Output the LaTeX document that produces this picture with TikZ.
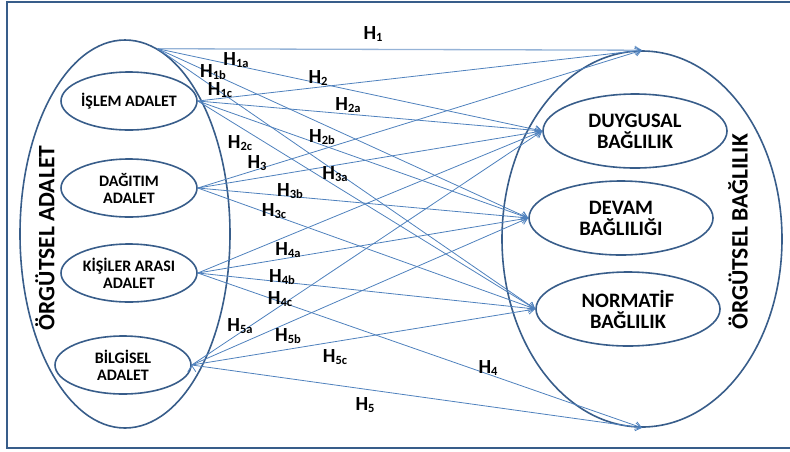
\documentclass[tikz,border=0pt]{standalone}
\usepackage{fontspec}
\setmainfont{Carlito}
\usetikzlibrary{shapes.geometric,arrows.meta}
\definecolor{ovalblue}{HTML}{385D8A}
\definecolor{linkblue}{HTML}{4F81BD}
\definecolor{paleblue}{HTML}{95B3D7}
\newcommand{\hyp}[1]{H\raisebox{-1.5pt}{\fontsize{12.5}{12.5}\selectfont #1}}

\begin{document}
\begin{tikzpicture}[x=1pt,y=-1pt,
  oval/.style={ellipse,draw=ovalblue,line width=1.6pt,inner sep=0pt,align=center,font=\bfseries},
  leftoval/.style={oval,minimum width=136pt,minimum height=58pt,font=\fontsize{16}{17}\selectfont\bfseries},
  rightoval/.style={oval,minimum width=184pt,minimum height=74pt,font=\fontsize{20.5}{21}\selectfont\bfseries},
  title/.style={rotate=90,inner sep=0pt,font=\fontsize{23.5}{24}\selectfont\bfseries},
  hlabel/.style={inner sep=0pt,font=\fontsize{20}{20}\selectfont\bfseries},
  linkline/.style={draw=linkblue,line width=0.8pt,-{Straight Barb[length=6pt,width=8pt]}}]

  \useasboundingbox (0,0) rectangle (790,451);
  \draw[ovalblue,line width=2.2pt] (800,2) -- (7,2) -- (7,448) -- (800,448);

  % outer ovals
  \node[oval,minimum width=210pt,minimum height=388pt] (adalet) at (125,234) {};
  \node[oval,minimum width=280pt,minimum height=376pt] (baglilik) at (642,239) {};
  \node[title] (adaletbaslik) at (45,238) {ÖRGÜTSEL ADALET};
  \node[title] (baglilikbaslik) at (738,232) {ÖRGÜTSEL BAĞLILIK};

  % inner ovals
  \node[leftoval] (islem) at (129,101) {İŞLEM ADALET};
  \node[leftoval] (dagitim) at (129,188) {DAĞITIM\\ADALET};
  \node[leftoval] (kisiler) at (129,273) {KİŞİLER ARASI\\ADALET};
  \node[leftoval] (bilgisel) at (123,365) {BİLGİSEL\\ADALET};
  \node[rightoval] (duygusal) at (635,131) {DUYGUSAL\\BAĞLILIK};
  \node[rightoval] (devam) at (621,218) {DEVAM\\BAĞLILIĞI};
  \node[rightoval] (normatif) at (628,309) {NORMATİF\\BAĞLILIK};

  \coordinate (tepe) at (adalet.80);

  \path[linkline]
   (tepe) edge[draw=paleblue,line width=1.3pt] (baglilik.north)
   (tepe) edge (duygusal.west)
   (tepe) edge (devam.west)
   (tepe) edge (normatif.west)
   (islem.east) edge (baglilik.north)
   (islem.east) edge (duygusal.west)
   (islem.east) edge (devam.west)
   (islem.east) edge (normatif.west)
   (dagitim.east) edge (baglilik.north)
   (dagitim.east) edge (duygusal.west)
   (dagitim.east) edge (devam.west)
   (dagitim.east) edge (normatif.west)
   (kisiler.east) edge (baglilik.south)
   (kisiler.east) edge (duygusal.west)
   (kisiler.east) edge (devam.west)
   (kisiler.east) edge (normatif.west)
   (bilgisel.east) edge (baglilik.south)
   (bilgisel.east) edge (duygusal.west)
   (bilgisel.east) edge (devam.west)
   (bilgisel.east) edge (normatif.west);

  % hypothesis labels
  \node[hlabel] (h1) at (373,34) {\hyp{1}};
  \node[hlabel] (h1a) at (236,60) {\hyp{1a}};
  \node[hlabel] (h1b) at (213,72) {\hyp{1b}};
  \node[hlabel] (h1c) at (220,90) {\hyp{1c}};
  \node[hlabel] (h2) at (318,78) {\hyp{2}};
  \node[hlabel] (h2a) at (348,105) {\hyp{2a}};
  \node[hlabel] (h2b) at (322,137) {\hyp{2b}};
  \node[hlabel] (h2c) at (240,143) {\hyp{2c}};
  \node[hlabel] (h3) at (257,163) {\hyp{3}};
  \node[hlabel] (h3a) at (335,174) {\hyp{3a}};
  \node[hlabel] (h3b) at (290,191) {\hyp{3b}};
  \node[hlabel] (h3c) at (274,211) {\hyp{3c}};
  \node[hlabel] (h4) at (488,368) {\hyp{4}};
  \node[hlabel] (h4a) at (288,250) {\hyp{4a}};
  \node[hlabel] (h4b) at (282,277) {\hyp{4b}};
  \node[hlabel] (h4c) at (280,299) {\hyp{4c}};
  \node[hlabel] (h5) at (365,405) {\hyp{5}};
  \node[hlabel] (h5a) at (240,326) {\hyp{5a}};
  \node[hlabel] (h5b) at (288,336) {\hyp{5b}};
  \node[hlabel] (h5c) at (335,357) {\hyp{5c}};
\end{tikzpicture}
\end{document}
